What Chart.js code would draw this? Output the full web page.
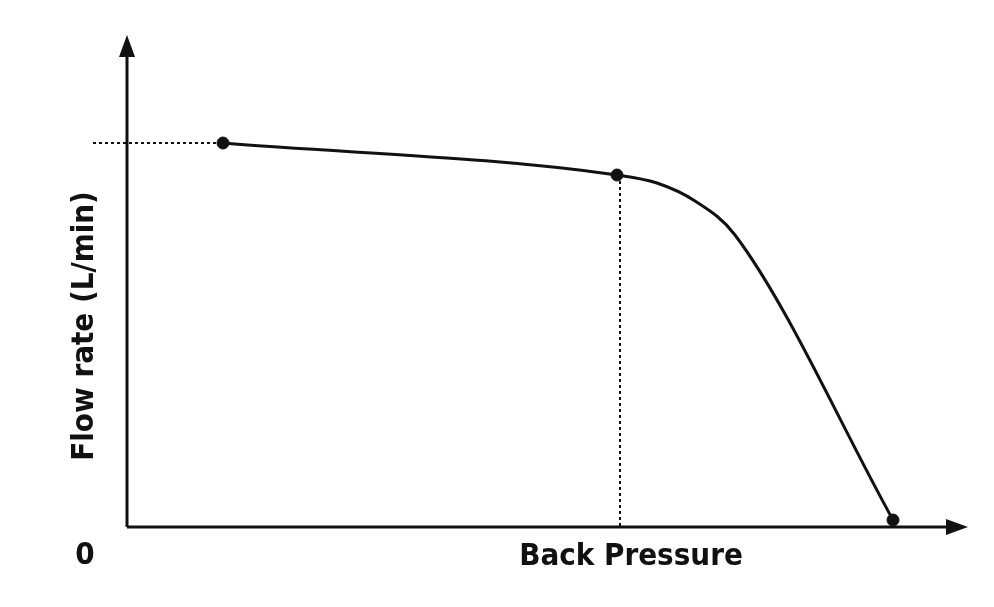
<!DOCTYPE html><html><head><script src="https://cdn.jsdelivr.net/npm/chart.js"></script>
<style>body{margin:0;background:#fff}</style></head><body>
<canvas id="c" width="994" height="607"></canvas>
<script>
const curveX=[96,490,530,568,608,766];
const curveY=[384,352,344,326,292,7];
const markX=[96,490,766];
const markY=[384,352,7];
const hDotX=[-34,96], hDotY=[384,384];
const vDotX=[493,493], vDotY=[352,0];
const xLabel='Back Pressure', yLabel='Flow rate (L/min)', origin='0';
const pts=(xs,ys)=>xs.map((x,i)=>({x,y:ys[i]}));
const axes={id:'axes',afterDraw(c){const g=c.ctx,a=c.chartArea;g.save();g.strokeStyle='#111';g.fillStyle='#111';g.lineWidth=3;
g.beginPath();g.moveTo(a.left,a.bottom);g.lineTo(a.left,a.top+15);g.moveTo(a.left,a.bottom);g.lineTo(a.right-15,a.bottom);g.stroke();
g.beginPath();g.moveTo(a.left,a.top);g.lineTo(a.left-8,a.top+22);g.lineTo(a.left+8,a.top+22);g.fill();
g.beginPath();g.moveTo(a.right,a.bottom);g.lineTo(a.right-22,a.bottom-8);g.lineTo(a.right-22,a.bottom+8);g.fill();
g.font='bold 31px "DejaVu Sans Condensed","Liberation Sans"';g.textAlign='center';g.textBaseline='middle';
g.fillText(origin,85,556);g.fillText(xLabel,631,557);
g.translate(85,326);g.rotate(-Math.PI/2);g.fillText(yLabel,0,0);g.restore();}};
new Chart(document.getElementById('c'),{type:'scatter',data:{datasets:[
{data:pts(curveX,curveY),showLine:true,borderColor:'#111',borderWidth:3,pointRadius:0,cubicInterpolationMode:'monotone'},
{data:pts(hDotX,hDotY),showLine:true,borderColor:'#111',borderWidth:2,borderDash:[3,3],pointRadius:0,clip:false},
{data:pts(vDotX,vDotY),showLine:true,borderColor:'#111',borderWidth:2,borderDash:[3,3],pointRadius:0},
{data:pts(markX,markY),showLine:false,pointRadius:6,backgroundColor:'#111',borderColor:'#111',clip:false}
]},options:{responsive:false,animation:false,layout:{padding:{left:127,right:26,top:35,bottom:80}},
plugins:{legend:{display:false},tooltip:{enabled:false}},
scales:{x:{type:'linear',min:0,max:841,display:false},y:{type:'linear',min:0,max:492,display:false}}},plugins:[axes]});
</script></body></html>
